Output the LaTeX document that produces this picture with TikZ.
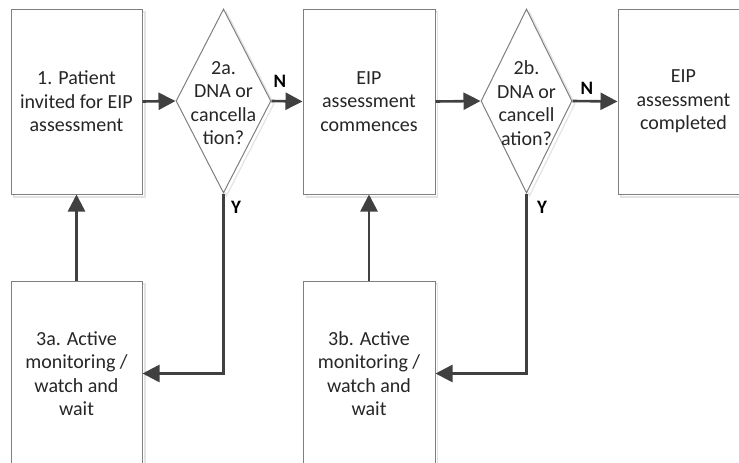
\documentclass[tikz,border=0pt]{standalone}
\usepackage{fontspec}
\setmainfont{Carlito}
\usetikzlibrary{arrows.meta,shapes.geometric}
\definecolor{conncol}{HTML}{404040}
\definecolor{boxcol}{HTML}{7F7F7F}
\definecolor{shadcol}{HTML}{E3E3E3}
\definecolor{txtcol}{HTML}{262626}
\tikzset{
  procbox/.style={draw=boxcol, line width=1pt, fill=white, rectangle,
    minimum width=131pt, minimum height=185pt, inner sep=0pt,
    align=center, text=txtcol, font=\fontsize{20}{23.5}\selectfont},
  shadbox/.style={draw=shadcol, line width=1.2pt, rectangle,
    minimum width=131pt, minimum height=185pt, inner sep=0pt},
  decis/.style={draw=boxcol, line width=1pt, fill=white, diamond,
    minimum height=184pt, inner sep=0pt},
  shaddec/.style={draw=shadcol, line width=1.2pt, diamond,
    minimum height=184pt, inner sep=0pt},
  dtext/.style={align=center, text=txtcol, inner sep=0pt,
    font=\fontsize{20}{23.5}\selectfont},
  conn/.style={draw=conncol, line width=2.6pt,
    -{Triangle[length=17pt,width=17pt]}},
  lbl/.style={text=black, inner sep=0pt, font=\fontsize{19}{22}\selectfont\bfseries}
}
\begin{document}
\begin{tikzpicture}[x=1pt,y=-1pt]
\useasboundingbox (0,0) rectangle (739,463);
\clip (0,0) rectangle (739,463);
% shadows
\node[shadbox] at (79.5,104.5) {};
\node[shadbox] at (372,104.5) {};
\node[shadbox] at (686.5,104.5) {};
\node[shadbox] at (79.5,376.5) {};
\node[shadbox] at (372,376.5) {};
\node[shaddec, minimum width=95pt] at (226.5,104) {};
\node[shaddec, minimum width=91pt] at (529.5,104) {};
% boxes
\node[procbox] (b1) at (76.5,101.5) {1. Patient\\invited for EIP\\assessment};
\node[procbox, minimum width=132pt] (b2) at (369,101.5) {EIP\\assessment\\commences};
\node[procbox] (b3) at (683.5,101.5) {EIP\\assessment\\completed};
\node[procbox] (b4) at (76.5,373.5) {3a. Active\\monitoring /\\watch and\\wait};
\node[procbox, minimum width=132pt] (b5) at (369,373.5) {3b. Active\\monitoring /\\watch and\\wait};
% decisions
\node[decis, minimum width=95pt] (d1) at (223.5,101) {};
\node[dtext] (t1) at (223.5,103) {2a.\\DNA or\\cancella\\tion?};
\node[decis, minimum width=91pt] (d2) at (526.5,101) {};
\node[dtext] (t2) at (526.5,103) {2b.\\DNA or\\cancell\\ation?};
% connectors
\draw[conn] (b1.east) -- (d1.west);
\draw[conn] (d1.east) -- (b2.west);
\draw[conn] (b2.east) -- (d2.west);
\draw[conn] (d2.east) -- (b3.west);
\draw[conn] (d1.south) |- (b4.east);
\draw[conn] (d2.south) |- (b5.east);
\draw[conn] (b4.north) -- (b1.south);
\draw[conn] (b5.north) -- (b2.south);
% labels
\node[lbl] (n1) at (280,81) {N};
\node[lbl] (n2) at (587,88) {N};
\node[lbl] (y1) at (236,207) {Y};
\node[lbl] (y2) at (542,207) {Y};
\end{tikzpicture}
\end{document}
